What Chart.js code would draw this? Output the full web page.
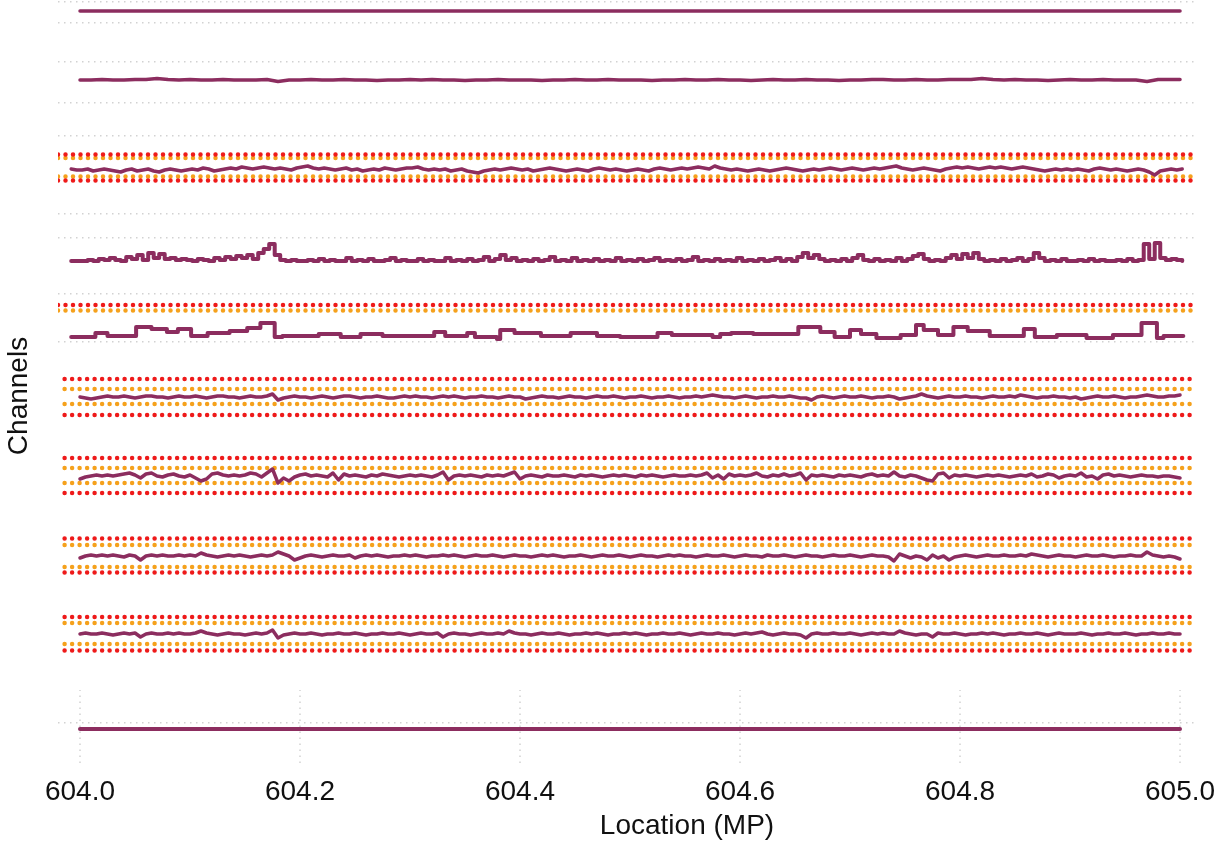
<!DOCTYPE html>
<html>
<head>
<meta charset="utf-8">
<title>Channels by location</title>
<script src="https://cdn.jsdelivr.net/npm/chart.js@4.4.1/dist/chart.umd.min.js"></script>
<style>
  html, body { margin: 0; padding: 0; background: #fff; }
  #wrap { width: 1228px; height: 845px; }
</style>
</head>
<body>
<div id="wrap"><canvas id="chan" width="1228" height="845"></canvas></div>
<script>
// mile post ticks
const locTicks = [604.0, 604.2, 604.4, 604.6, 604.8, 605.0];

// channel traces, deviation from each channel's own level
const ch1Trace = [0, 0, 0, 0, 0, 0, 0, 0, 0, 0, 0];
const ch2Trace = [
  0, 0, 0.5, 0, 0, 0.5, 0.5, 1.5, 0.5, 0, 0.5, 0, 0, 0.5, 0, 0, 0, 0.5, -1.5, 0,
  0, 0.5, 0, 0, 0.5, 0, 0, -0.5, 0, 0, 0.5, 0, 0.5, 0, 0, -0.5, 0, 0, 0.5, 0,
  0, 0, -0.5, 0, 0, 0.5, 0, 0, 0.5, 0, 0, 0, -0.5, 0, 0, 0.5, 0, 0, 0.5, 0,
  0, -0.5, 0, 0.5, 0, 0, 0.5, 0, 0, -0.5, 0, 0, 0.5, 0.5, 0, 0, 0.5, 0, 0, 0.5,
  0.5, 0.5, 1.5, 0.5, 0, 0.5, 0, 0, -0.5, 0, 0.5, 0, 0, 0.5, 0, 0, 0, -1.5, 0.5, 0.5,
  0.5
];
const ch3Trace = [
  1, 0,
  0, 1, -1, 0, 1, 0, -1, -2, 0, 1, -1, 0, 1, -1, -2, 0, 1, 0, -1, 0,
  1, 0, 2, 1, -1, 0, 1, 2, 1, 3, 2, 1, 2, 3, 2, 1, 2, 1, 0, 2,
  3, 4, 2, 1, 2, 1, 0, 1, 2, 0, 1, -1, 0, 1, 0, 2, 1, 0, 1, 2,
  2, 3, 1, 0, 1, 0, 1, -1, 0, 1, -1, -2, -3, -1, 0, 1, 0, 1, 2, 1,
  0, 1, -1, 0, 1, 2, 1, 0, -1, 0, 1, 0, -1, 1, 2, 1, 0, 1, 0, -1,
  0, 1, 0, -1, 1, 2, 1, 0, 1, 2, 1, 2, 3, 2, 1, 4, 2, 1, 0, 1,
  0, -1, 0, 1, 0, -1, 0, 1, 2, 1, 0, -1, 0, 1, 0, 1, 2, 1, 0, 1,
  2, 1, 0, 1, 2, 1, 2, 3, 4, 2, 1, 0, 1, 2, 1, 0, -1, 1, 2, 3,
  2, 3, 2, 1, 2, 3, 2, 3, 2, 1, 2, 3, 2, 1, 0, -1, 0, 1, 0, 1,
  0, 1, 0, -1, 1, 2, 1, 0, 1, 0, -1, 0, 1, 0, -2, -5, -1, 0, 1, 0,
  1
];
const ch4Trace = [
  0, 0,
  0, 1, 0, 2, 1, 3, 1, 0, 4, 2, 6, 1, 8, 3, 7, 2, 3, 1, 2, 1,
  0, 2, 1, 0, 3, 1, 4, 2, 5, 3, 6, 2, 8, 12, 17, 6, 1, 0, 1, 0,
  0, 1, 0, 2, 0, 1, 0, 0, 3, 0, 1, 0, 2, 0, 0, 1, 3, 0, 1, 0,
  0, 2, 0, 1, 0, 0, 3, 0, 1, 0, 2, 0, 1, 4, 0, 2, 6, 1, 3, 0,
  1, 0, 2, 0, 1, 4, 0, 1, 0, 3, 0, 1, 0, 2, 0, 1, 0, 3, 0, 1,
  0, 2, 0, 1, 3, 0, 1, 0, 2, 0, 1, 4, 0, 1, 0, 2, 0, 1, 0, 3,
  0, 1, 0, 2, 0, 1, 3, 0, 2, 0, 4, 8, 3, 6, 2, 0, 1, 0, 2, 0,
  3, 6, 1, 0, 2, 0, 1, 0, 3, 0, 2, 5, 7, 2, 0, 1, 0, 3, 6, 2,
  7, 3, 8, 2, 0, 1, 0, 2, 0, 1, 3, 0, 2, 8, 3, 0, 1, 0, 2, 0,
  0, 1, 0, 2, 0, 1, 0, 0, 1, 0, 2, 0, 1, 17, 2, 18, 3, 1, 2, 1,
  0
];
// channel 5 is a step trace: location where each level starts
const ch5Loc = [
  603.992, 604.014, 604.025, 604.051, 604.065, 604.079, 604.089, 604.101, 604.116, 604.136,
  604.152, 604.164, 604.177, 604.184, 604.217, 604.237, 604.255, 604.275, 604.322, 604.332,
  604.352, 604.359, 604.379, 604.382, 604.395, 604.419, 604.446, 604.470, 604.491, 604.525,
  604.538, 604.575, 604.582, 604.592, 604.612, 604.653, 604.673, 604.686, 604.700, 604.710,
  604.724, 604.746, 604.760, 604.767, 604.780, 604.794, 604.807, 604.827, 604.858, 604.868,
  604.888, 604.915, 604.939, 604.965, 604.979, 604.985, 605.003
];
const ch5Level = [
  0, 4, 1, 10, 8, 5, 8, 1, 4, 6,
  9, 14, 0, 1, 3, 0, 3, 1, 5, 1,
  4, 0, -2, 7, 4, 1, 4, 1, 0, 4,
  2, 0, 3, 4, 3, 10, 5, 0, 7, 3,
  -1, 2, 12, 7, 2, 10, 6, 1, 8, 0,
  2, -1, 2, 14, -1, 1, 1
];
const ch6Trace = [
  0, -1, -2, -1, 0, 1, 0, 0, 1, 0, -1, 0, 1, 1, 0, 0, -1, 0, 1, 0,
  0, 1, 0, -1, 0, 1, 1, 0, 0, -1, 0, 1, 0, 0, 1, 3, -3, -1, 0, 1,
  0, 0, -1, 0, 1, 0, -1, 0, 1, 1, 0, -1, 0, 0, 1, 0, -1, -1, 0, 1,
  0, 1, 0, 0, -1, 0, 1, 0, 1, 0, -1, 0, 0, 1, 0, 0, -1, 0, 1, 0,
  0, -2, -1, 0, 1, 0, 0, -1, 0, 1, 0, 0, -1, 0, 1, 0, 0, 1, 0, -1,
  0, 0, 1, 0, -1, 0, 0, 1, 0, -1, 0, 0, 1, 0, 1, 2, 1, 0, 0, -1,
  0, 1, 0, -1, 0, 0, 1, 0, 0, 1, 0, -1, -1, -3, 0, 1, 0, -1, 0, 1,
  0, 0, 1, 0, -1, 0, 0, 1, 0, -2, -1, 0, 1, 3, 1, 0, -1, 0, 1, 0,
  0, 1, 0, 0, -1, 0, 1, 0, 0, 1, 0, 2, 1, 0, -1, 0, 0, 1, 0, 0,
  -1, 0, -2, -1, 0, 1, 0, 0, 1, 0, -1, 0, 0, 1, 2, 1, 0, 0, 1, 1,
  2
];
const ch7Trace = [
  -3, -1, 0, 1, 0, 1, 0, 1, 2, 3, 1, -2, 2, 3, 0, -1, 1, 2, 0, -1,
  1, -2, -5, -3, 2, 3, 1, 0, 1, 0, 1, 3, 2, -1, 3, 7, -7, -2, -5, -1,
  1, 2, 0, 1, 0, -1, 3, -4, 2, 0, 1, 0, -1, 1, 0, 2, 1, 0, -1, 0,
  1, 0, 1, 0, -1, 1, 4, -4, 0, 1, 0, 1, 0, -1, 1, 0, 1, 0, 2, 4,
  -3, 0, 1, 0, -1, 1, 0, 0, 1, 0, -1, 1, 0, 1, 0, -1, 0, 1, 0, 1,
  0, -1, 1, 0, 1, 0, -1, 0, 1, 0, 0, 1, 0, 1, 3, -2, 1, -3, 2, 0,
  1, 0, 1, 3, 0, -1, 1, 0, 2, 0, 1, 3, -4, 1, 0, 1, 0, -1, 1, 0,
  1, 0, -1, 1, 2, 0, 1, 0, 4, 0, -1, 1, 0, -2, -4, -5, 2, 3, -2, 1,
  0, 1, 0, -1, 0, 1, 0, 1, 0, -1, 0, 1, 0, 2, -1, 0, 2, 1, -2, 0,
  1, 0, 3, -1, 0, -3, 1, 2, 0, 1, 0, -1, 0, 1, 0, 0, -1, 0, 0, -1,
  -2
];
const ch8Trace = [
  -2, 0, 1, 0, 1, 0, 1, 0, -1, 1, 0, -4, 0, 1, 0, 1, 0, 0, 1, 0,
  1, 0, 3, 1, 0, -1, 0, 1, 0, 1, 0, -1, 0, 1, 0, 1, 4, 2, 0, -4,
  -2, 0, 1, 0, -1, 0, 1, 0, 0, 1, -2, 0, 1, 0, 1, 0, -1, 0, 0, 1,
  0, 1, 0, -1, 0, 0, 1, 0, 1, 0, -1, 0, 1, 0, 0, 1, 0, -1, 0, 1,
  0, 0, -1, 0, 1, 0, 1, 0, -1, 0, 0, 1, 0, -1, 0, 1, 0, 0, 1, 0,
  -1, 0, 1, 0, 0, -1, 0, 1, 0, 1, 0, 0, -1, 0, 1, 0, 0, 1, 0, -1,
  0, 1, 0, 0, -1, 1, 0, 0, 1, 0, -1, 0, 1, 0, 0, -1, 0, 1, 0, 0,
  1, 0, -1, 0, 1, 0, 0, -1, -5, 2, 0, -2, 0, -1, -4, 1, -2, 0, -4, -1,
  0, 1, 0, -1, 0, 1, 0, 0, 1, 0, 0, 1, 0, 2, 1, 0, -1, 0, 1, 0,
  0, -1, 0, 1, 0, 0, 1, 0, -1, 0, 0, 1, 0, 0, 4, 1, 0, -1, 0, -1,
  -3
];
const ch9Trace = [
  0, 1, 0, 0, 1, 0, -1, 0, 1, 0, 1, -3, 0, 1, 0, 0, 1, 0, 1, 0,
  0, 1, 3, 1, 0, -1, 0, 1, 0, 0, -1, 0, 1, 0, 1, 4, -4, -1, 0, 1,
  0, 0, 1, 0, -1, 0, 0, 1, 0, 0, 1, 0, -1, 0, 0, 1, 0, 0, 1, 0,
  -1, 0, 1, 0, 0, 1, -3, 0, 1, 0, 0, -1, 0, 1, 0, 0, 1, 0, 3, 1,
  0, 0, -1, 0, 1, 0, 0, 1, 0, -1, 0, 0, 1, 0, 1, 0, -1, 0, 0, 1,
  0, 1, 0, -1, 0, 0, 1, 0, 0, 1, 0, -1, 0, 1, 0, 0, 1, 0, 0, -1,
  0, 1, 0, 1, 2, 0, -1, 0, 1, 0, 0, -1, -4, 0, 1, 0, 0, 1, 0, 0,
  1, 0, -1, 0, 1, 0, 1, 0, 0, 3, 1, 0, -1, 0, 0, -3, 1, 0, 0, 1,
  0, -1, 0, 0, 1, 0, 1, 0, -1, 0, 0, 1, 0, 0, 1, 0, -1, 0, 1, 0,
  0, 0, 1, 0, -1, 0, 0, 1, 0, 0, 1, 0, -1, 0, 0, 1, 0, 0, 1, 0,
  0
];
const ch10Trace = [0, 0, 0, 0, 0, 0, 0, 0, 0, 0, 0];

// alarm limits per channel, [upper, lower] around the channel level
const redLimits = [null, null, [15.5, -10.5], null, [32, null], [18, -18], [18, -17], [17.5, -16.5], [17, -16.5], null];
const orangeLimits = [null, null, [12, -6.5], null, [26.5, null], [8, -7], [8, -7], [11, -11], [11, -10], null];

// ---- layout ----
const channelTrack = [752, 683, 593, 502, 426, 366, 287, 207, 129, 34];
const limitStart = [null, null, 603.98, null, 603.98, 603.986, 603.986, 603.986, 603.986, null];
const limitEnd = 605.011;
const gridRows = [761, 740, 701, 660, 627, 549, 525, 469, 421, 40];
const bottomPanel = [0, 73];

const PURPLE = '#8c2d5f';
const RED = '#ee1a1a';
const ORANGE = '#f5a11c';
const GRID = '#d2d2d2';

function trace(start, step, values, track) {
    return values.map((v, i) => ({ x: +(start + i * step).toFixed(4), y: track + v }));
}

const traces = [
    { data: trace(604.0, 0.1, ch1Trace, channelTrack[0]), w: 3.5 },
    { data: trace(604.0, 0.01, ch2Trace, channelTrack[1]), w: 3.5 },
    { data: trace(603.992, 0.005, ch3Trace, channelTrack[2]), w: 3.5 },
    { data: trace(603.992, 0.005, ch4Trace, channelTrack[3]), w: 4, stepped: true },
    { data: ch5Loc.map((x, i) => ({ x, y: channelTrack[4] + ch5Level[i] })), w: 4, stepped: true },
    { data: trace(604.0, 0.005, ch6Trace, channelTrack[5]), w: 3.5 },
    { data: trace(604.0, 0.005, ch7Trace, channelTrack[6]), w: 3.5 },
    { data: trace(604.0, 0.005, ch8Trace, channelTrack[7]), w: 3.5 },
    { data: trace(604.0, 0.005, ch9Trace, channelTrack[8]), w: 3.5 },
    { data: trace(604.0, 0.1, ch10Trace, channelTrack[9]), w: 4 }
];

const datasets = traces.map(t => ({
    data: t.data,
    borderColor: PURPLE,
    borderWidth: t.w,
    stepped: t.stepped || false,
    borderJoinStyle: 'round',
    borderCapStyle: 'round'
}));

// dotted alarm lines
function limitLines(limits, color) {
    limits.forEach((pair, c) => {
        if (!pair) return;
        pair.forEach(v => {
            if (v === null) return;
            const y = channelTrack[c] + v;
            datasets.push({
                data: [{ x: limitStart[c], y }, { x: limitEnd, y }],
                borderColor: color,
                borderWidth: 4.5,
                borderDash: [0, 7.5],
                borderCapStyle: 'round'
            });
        });
    });
}
limitLines(redLimits, RED);
limitLines(orangeLimits, ORANGE);

// vertical guides in the bottom panel
locTicks.forEach(t => {
    datasets.push({
        data: [{ x: t, y: bottomPanel[0] }, { x: t, y: bottomPanel[1] }],
        borderColor: GRID,
        borderWidth: 1.5,
        borderDash: [1.5, 4.5]
    });
});

const axisCaptions = {
    id: 'axisCaptions',
    afterDraw(chart) {
        const ctx = chart.ctx;
        ctx.save();
        ctx.fillStyle = '#111';
        ctx.font = '28px "Liberation Sans", Arial, sans-serif';
        ctx.textAlign = 'center';
        ctx.textBaseline = 'middle';
        ctx.fillText('Location (MP)', 687, 826);
        ctx.translate(19, 396);
        ctx.rotate(-Math.PI / 2);
        ctx.fillText('Channels', 0, 0);
        ctx.restore();
    }
};

new Chart(document.getElementById('chan'), {
    type: 'line',
    data: { datasets },
    plugins: [axisCaptions],
    options: {
        responsive: false,
        animation: false,
        events: [],
        layout: { padding: { left: 0, right: 34, top: 0, bottom: 0 } },
        elements: {
            point: { radius: 0 },
            line: { tension: 0, fill: false }
        },
        plugins: {
            legend: { display: false },
            tooltip: { enabled: false }
        },
        scales: {
            x: {
                type: 'linear',
                min: 603.98,
                max: 605.0127,
                afterBuildTicks: s => { s.ticks = locTicks.map(v => ({ value: v })); },
                afterFit: s => { s.height = 82; },
                grid: { display: false },
                border: { display: false },
                ticks: {
                    padding: 4,
                    color: '#111',
                    font: { family: '"Liberation Sans", Arial, sans-serif', size: 28 },
                    maxRotation: 0,
                    callback: v => v.toFixed(1)
                }
            },
            y: {
                type: 'linear',
                min: 0,
                max: 763,
                afterBuildTicks: s => { s.ticks = gridRows.map(v => ({ value: v })); },
                afterFit: s => { s.width = 58; },
                grid: { color: GRID, lineWidth: 1.5, drawTicks: false },
                border: { display: false, dash: [1.5, 4.5] },
                ticks: { display: false }
            }
        }
    }
});
</script>
</body>
</html>
